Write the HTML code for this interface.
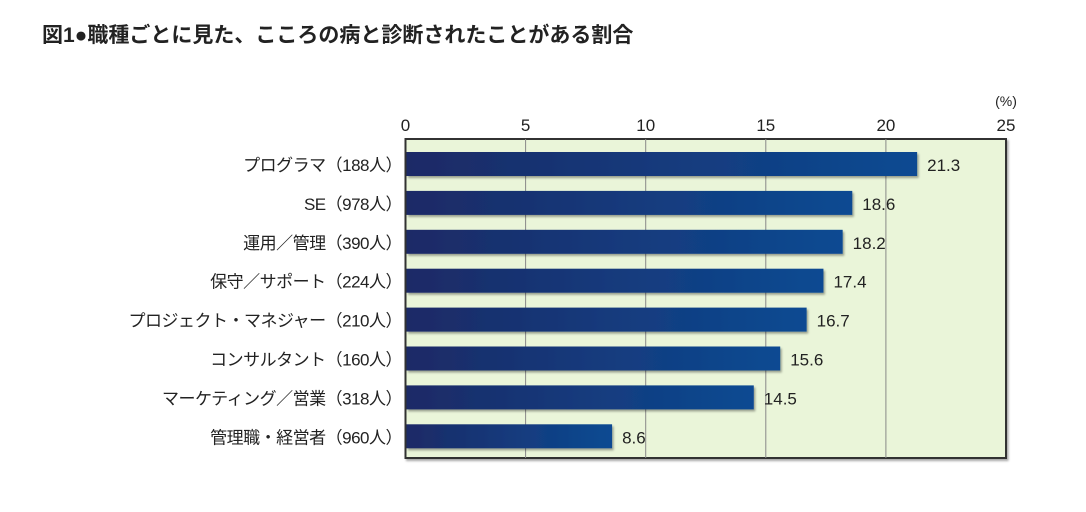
<!DOCTYPE html>
<html><head><meta charset="utf-8">
<style>
body{margin:0;background:#fff;width:1086px;height:507px;overflow:hidden;font-family:"Liberation Sans","Noto Sans CJK JP",sans-serif;}
</style></head>
<body>
<svg width="1086" height="507" xmlns="http://www.w3.org/2000/svg">
<defs>
<linearGradient id="bg" x1="0" x2="1" y1="0" y2="0"><stop offset="0" stop-color="#1c2a66"/><stop offset="1" stop-color="#0c4a92"/></linearGradient>
<filter id="sh" x="-5%" y="-20%" width="110%" height="160%"><feDropShadow dx="1.5" dy="2" stdDeviation="1" flood-color="#000" flood-opacity="0.35"/></filter>
</defs>
<text x="42" y="42" font-size="21" font-weight="bold" fill="#222">図1●職種ごとに見た、こころの病と診断されたことがある割合</text>
<g id="g"></g>
</svg>
<script>
const categories=["プログラマ（188人）","SE（978人）","運用／管理（390人）","保守／サポート（224人）","プロジェクト・マネジャー（210人）","コンサルタント（160人）","マーケティング／営業（318人）","管理職・経営者（960人）"];
const values=[21.3,18.6,18.2,17.4,16.7,15.6,14.5,8.6];
const ticks=[0,5,10,15,20,25];
const NS="http://www.w3.org/2000/svg";
const g=document.getElementById('g');
const X0=405.5,X1=1006,T=139,B=458;
const x=v=>X0+(v/25)*(X1-X0);
const step=38.9, C0=164;
function el(t,a){const e=document.createElementNS(NS,t);for(const k in a)e.setAttribute(k,a[k]);g.appendChild(e);return e;}
const bgr=el('rect',{x:X0,y:T,width:X1-X0,height:B-T,fill:'#eaf5d9',stroke:'#333','stroke-width':2,filter:'url(#sh)'});


ticks.forEach(t=>{
 if(t>0&&t<25){const l=el('line',{x1:x(t),x2:x(t),y1:T,y2:B,stroke:'#888','stroke-width':1});
 
 }
 const tx=el('text',{x:x(t),y:131,'font-size':17,'text-anchor':'middle',fill:'#222'});tx.textContent=t;
 
 
});
const u=el('text',{x:1006,y:106,'font-size':14,'text-anchor':'middle',fill:'#222'});u.textContent='(%)';


categories.forEach((c,i)=>{
 const cy=C0+step*i;
 const r=el('rect',{x:X0+1,y:cy-12,width:x(values[i])-X0-1,height:24,fill:'url(#bg)',filter:'url(#sh)'});
 
 
 const v=el('text',{x:x(values[i])+10,y:cy+7,'font-size':17,fill:'#222'});v.textContent=values[i].toFixed(1);
 
 
 const lb=el('text',{x:402,y:cy+7,'font-size':17,'text-anchor':'end',fill:'#222','letter-spacing':'-0.5'});lb.textContent=c;
 
 
});
</script>
</body></html>
